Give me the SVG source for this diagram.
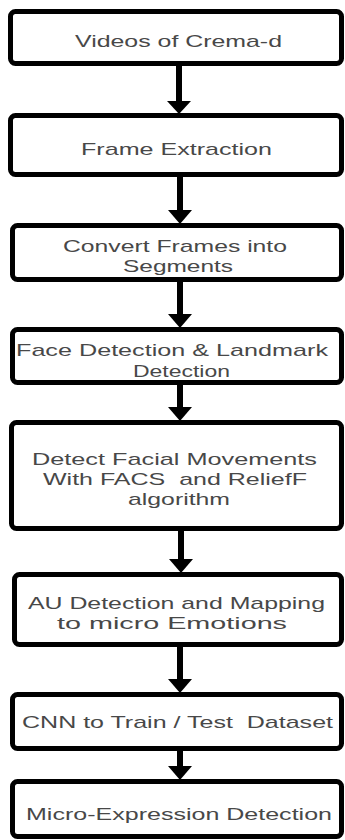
<svg xmlns="http://www.w3.org/2000/svg" width="345" height="840" viewBox="0 0 345 840">
<style>
.box{fill:#fff;stroke:#000;stroke-width:5}
.t{font-family:"Liberation Sans",Arial,sans-serif;font-size:17px;fill:#484848}
.c{stroke:#000;stroke-width:6;fill:none}
.h{fill:#000}
</style>
<rect width="345" height="840" fill="#fff"/>
<g id="n1"><rect class="box" x="10.5" y="11.5" width="331" height="52" rx="5"/>
<text class="t" x="75" y="47" textLength="207" lengthAdjust="spacingAndGlyphs">Videos of Crema-d</text></g>
<g id="n2"><rect class="box" x="10.5" y="115.5" width="331" height="59" rx="5"/>
<text class="t" x="81" y="155" textLength="191" lengthAdjust="spacingAndGlyphs">Frame Extraction</text></g>
<g id="n3"><rect class="box" x="12.5" y="225.5" width="329" height="54" rx="5"/>
<text class="t" x="63" y="252" textLength="224" lengthAdjust="spacingAndGlyphs">Convert Frames into</text>
<text class="t" x="123" y="272" textLength="110" lengthAdjust="spacingAndGlyphs">Segments</text></g>
<g id="n4"><rect class="box" x="12.5" y="329.5" width="329" height="53" rx="5"/>
<text class="t" x="16" y="356" textLength="312" lengthAdjust="spacingAndGlyphs">Face Detection &amp; Landmark</text>
<text class="t" x="133" y="377" textLength="97" lengthAdjust="spacingAndGlyphs">Detection</text></g>
<g id="n5"><rect class="box" x="11.5" y="422.5" width="330" height="106" rx="5"/>
<text class="t" x="32" y="465" textLength="285" lengthAdjust="spacingAndGlyphs">Detect Facial Movements</text>
<text class="t" x="43" y="485" textLength="264" lengthAdjust="spacingAndGlyphs" xml:space="preserve">With FACS  and ReliefF</text>
<text class="t" x="128" y="505" textLength="102" lengthAdjust="spacingAndGlyphs">algorithm</text></g>
<g id="n6"><rect class="box" x="14.5" y="574.5" width="327" height="70" rx="5"/>
<text class="t" x="28" y="609" textLength="297" lengthAdjust="spacingAndGlyphs">AU Detection and Mapping</text>
<text class="t" x="57" y="629" textLength="230" lengthAdjust="spacingAndGlyphs">to micro Emotions</text></g>
<g id="n7"><rect class="box" x="12.5" y="694.5" width="329" height="54" rx="5"/>
<text class="t" x="22" y="728" textLength="311" lengthAdjust="spacingAndGlyphs" xml:space="preserve">CNN to Train / Test  Dataset</text></g>
<g id="n8"><rect class="box" x="12.5" y="781.5" width="329" height="55" rx="5"/>
<text class="t" x="26" y="820" textLength="306" lengthAdjust="spacingAndGlyphs">Micro-Expression Detection</text></g>
<g id="connectors">
<line class="c" x1="179" y1="66" x2="179" y2="102"/><polygon class="h" points="167,101 191,101 179,114"/>
<line class="c" x1="180" y1="177" x2="180" y2="212"/><polygon class="h" points="168,210 192,210 180,224"/>
<line class="c" x1="180" y1="282" x2="180" y2="316"/><polygon class="h" points="168,314 192,314 180,328"/>
<line class="c" x1="180" y1="385" x2="180" y2="409"/><polygon class="h" points="168,407 192,407 180,421"/>
<line class="c" x1="181" y1="531" x2="181" y2="561"/><polygon class="h" points="169,559 193,559 181,573"/>
<line class="c" x1="180" y1="647" x2="180" y2="681"/><polygon class="h" points="168,679 192,679 180,693"/>
<line class="c" x1="180" y1="751" x2="180" y2="768"/><polygon class="h" points="168,766 192,766 180,780"/>
</g>
</svg>
